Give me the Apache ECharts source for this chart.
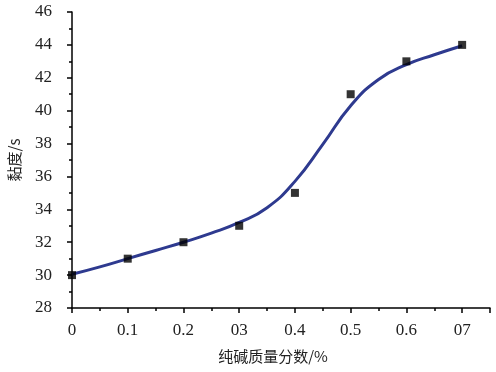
<!DOCTYPE html>
<html><head><meta charset="utf-8">
<script src="https://cdn.jsdelivr.net/npm/echarts@6/dist/echarts.min.js"></script>
<style>html,body{margin:0;padding:0;background:#fff}#c{width:496px;height:372px}</style>
</head><body><div id="c"></div>
<script>
var xTickLabels = ['0','0.1','0.2','03','0.4','0.5','0.6','07'];
var pointX = [0, 0.1, 0.2, 0.3, 0.4, 0.5, 0.6, 0.7];
var pointY = [30, 31, 32, 33, 35, 41, 43, 44];
var curveX = [0, 0.05, 0.1, 0.15, 0.2, 0.25, 0.3, 0.35, 0.4, 0.45, 0.5, 0.55, 0.6, 0.65, 0.7];
var curveY = [30.05, 30.5, 31.0, 31.5, 32.0, 32.55, 33.2, 34.1, 35.7, 37.95, 40.3, 41.9, 42.8, 43.4, 43.95];

var chart = echarts.init(document.getElementById('c'), null, {renderer:'canvas'});
var serif = '"Liberation Serif","Times New Roman",serif';
var cjk = '"Noto Sans CJK SC",sans-serif';
chart.setOption({
  animation:false,
  backgroundColor:'#fff',
  grid:{left:72, right:6, top:12, bottom:64, containLabel:false, outerBoundsMode:'none'},
  xAxis:{
    type:'value', min:0, max:0.75, interval:0.1,
    name:'纯碱质量分数/%', nameLocation:'middle', nameGap:41,
    nameTextStyle:{fontFamily:cjk, fontSize:15, color:'#222', padding:[0,16,0,0]},
    axisLine:{show:true, onZero:false, lineStyle:{color:'#000', width:1.5}},
    axisTick:{show:true, inside:false, length:5, lineStyle:{color:'#000', width:1.5}},
    minorTick:{show:true, splitNumber:2, length:3, lineStyle:{color:'#000', width:1.5}},
    splitLine:{show:false},
    axisLabel:{fontFamily:serif, fontSize:17, color:'#222', margin:14,
      formatter:function(v){var i=Math.round(v*10); return Math.abs(v*10-i)<1e-6 && i<xTickLabels.length ? xTickLabels[i] : '';}}
  },
  yAxis:{
    type:'value', min:28, max:46, interval:2,
    name:'黏度/s', nameLocation:'middle', nameGap:50,
    nameTextStyle:{fontFamily:cjk, fontSize:15, color:'#222'},
    axisLine:{show:true, lineStyle:{color:'#000', width:1.5}},
    axisTick:{show:true, inside:false, length:5, lineStyle:{color:'#000', width:1.5}},
    minorTick:{show:true, splitNumber:2, length:3, lineStyle:{color:'#000', width:1.5}},
    splitLine:{show:false},
    axisLabel:{fontFamily:serif, fontSize:17, color:'#222', margin:20}
  },
  series:[
    {type:'line', smooth:0.5, symbol:'none',
     data:curveX.map(function(x,i){return [x,curveY[i]];}),
     lineStyle:{color:'#2e3a8f', width:3}, z:2},
    {type:'scatter', symbol:'rect', symbolSize:8,
     data:pointX.map(function(x,i){return [x,pointY[i]];}),
     itemStyle:{color:'#000'}, z:3}
  ]
});
</script></body></html>
